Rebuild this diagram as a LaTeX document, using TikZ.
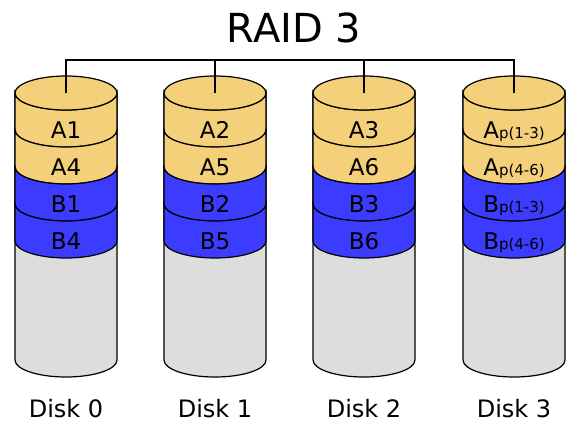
\documentclass[tikz,border=0pt]{standalone}
\usepackage{fontspec}
\setmainfont{DejaVu Sans}
\definecolor{stripA}{RGB}{245,208,122}
\definecolor{stripB}{RGB}{60,60,255}
\definecolor{emptyspace}{RGB}{221,221,221}
\newcommand{\paritylbl}[2]{#1{\fontsize{15}{15}\selectfont p(#2)}}
\tikzset{
  blocklabel/.style={anchor=base, inner sep=0pt, font=\fontsize{23}{23}\selectfont},
  disklabel/.style={anchor=base, inner sep=0pt, font=\fontsize{24}{24}\selectfont},
  diskline/.style={draw=black, line width=1.2pt},
}

\begin{document}
\begin{tikzpicture}[x=1pt, y=1pt]
    \useasboundingbox (0,0) rectangle (588,432);
    \node[anchor=base, inner sep=0pt, font=\fontsize{40}{40}\selectfont] (title) at (294,389) {RAID 3};
    % the four cylinders
    \foreach \d/\cx in {0/66,1/215,2/364,3/514} {
        \path[diskline, fill=emptyspace] (\cx-51,339) -- (\cx-51,72) arc[start angle=180, end angle=360, x radius=51, y radius=17] -- (\cx+51,339) -- cycle;
        \foreach \b/\col in {1/stripA,2/stripA,3/stripB,4/stripB} {
            \pgfmathsetmacro\yt{339-37*(\b-1)}
            \path[diskline, fill=\col] (\cx-51,\yt) -- (\cx-51,\yt-37) arc[start angle=180, end angle=360, x radius=51, y radius=17] -- (\cx+51,\yt) arc[start angle=0, end angle=-180, x radius=51, y radius=17] -- cycle;
        }
        \path[diskline, fill=stripA] (\cx,339) ellipse[x radius=51, y radius=17];
        \coordinate (top-\d) at (\cx,339);
        \coordinate (bus-\d) at (\cx,372);
        \node[disklabel] (disk-\d) at (\cx,15) {Disk \d};
    }
    % block labels
    \foreach \b/\t in {1/A1,2/A4,3/B1,4/B4} \node[blocklabel] (blk-0-\b) at (66,331-37*\b) {\t};
    \foreach \b/\t in {1/A2,2/A5,3/B2,4/B5} \node[blocklabel] (blk-1-\b) at (215,331-37*\b) {\t};
    \foreach \b/\t in {1/A3,2/A6,3/B3,4/B6} \node[blocklabel] (blk-2-\b) at (364,331-37*\b) {\t};
    \foreach \b/\s/\r in {1/A/1-3,2/A/4-6,3/B/1-3,4/B/4-6} \node[blocklabel] (blk-3-\b) at (514,331-37*\b) {\paritylbl{\s}{\r}};
    % controller bus
    \draw[line width=1.2pt] (top-0) -- (bus-0) -- (bus-3) -- (top-3);
    \draw[line width=1.2pt] (top-1) -- (bus-1);
    \draw[line width=1.2pt] (top-2) -- (bus-2);
\end{tikzpicture}
\end{document}
